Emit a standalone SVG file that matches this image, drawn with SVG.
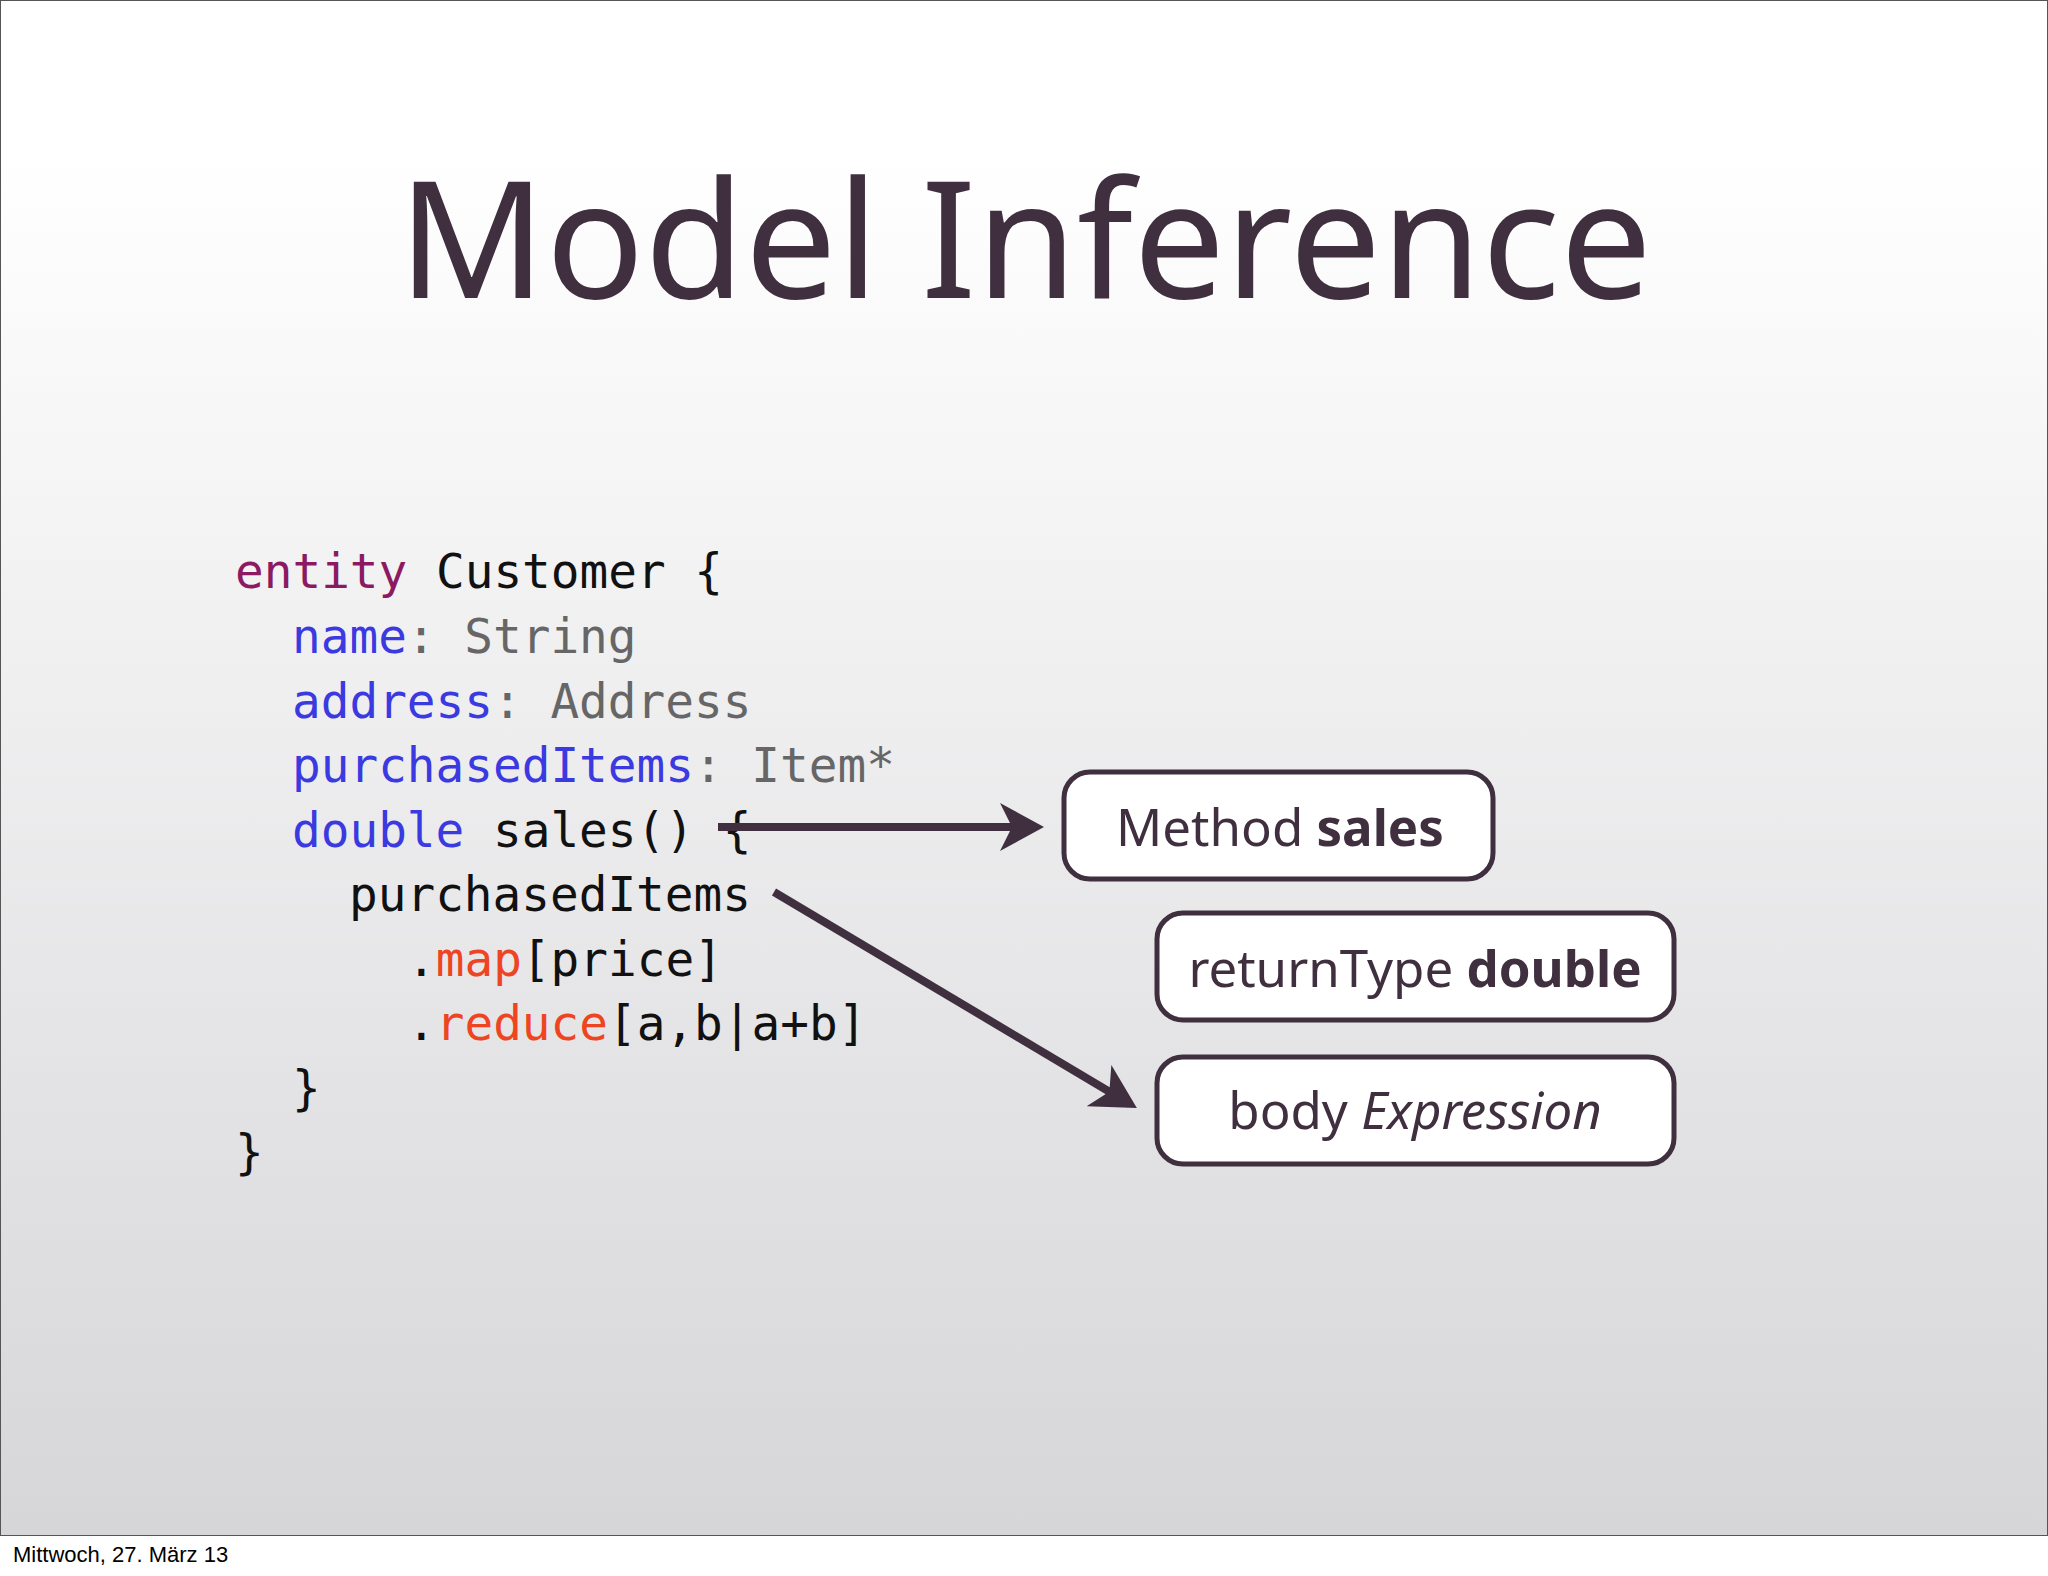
<svg xmlns="http://www.w3.org/2000/svg" width="2048" height="1576" viewBox="0 0 2048 1576">
<defs>
<linearGradient id="bg" x1="0" y1="0" x2="0" y2="1"><stop offset="0.1" stop-color="#ffffff"/><stop offset="1" stop-color="#d6d5d8"/></linearGradient>
<marker id="ah" markerWidth="6" markerHeight="6" refX="4.5" refY="3" orient="auto" markerUnits="strokeWidth"><path d="M0,0 L5.5,3 L0,6 L1.5,3 Z" fill="#3f2f3f"/></marker>
<style>
.c{font-family:"DejaVu Sans Mono",monospace;font-size:47.7px;fill:#111}
.k{fill:#8b1a62}.b{fill:#3a3ae0}.g{fill:#666}.o{fill:#ee4422}
.box rect{fill:#fff;stroke:#3f2f3f;stroke-width:5}
.box text{font-family:"Noto Sans",sans-serif;font-size:51px;fill:#3f2f3f;text-anchor:middle}
</style>
</defs>
<rect x="0" y="0" width="2048" height="1576" fill="#fff"/>
<rect x="0.5" y="0.5" width="2047" height="1535" fill="url(#bg)" stroke="#555" stroke-width="1"/>
<text x="13" y="1562" font-family="Liberation Sans,sans-serif" font-size="22" fill="#000">Mittwoch, 27. März 13</text>
<text x="1025" y="298" text-anchor="middle" font-family="Noto Sans,sans-serif" font-size="163" fill="#3f2f3f">Model Inference</text>
<g id="code" class="c">
<text x="235" y="588"><tspan class="k">entity</tspan> Customer {</text>
<text x="292" y="653"><tspan class="b">name</tspan><tspan class="g">: String</tspan></text>
<text x="292" y="718"><tspan class="b">address</tspan><tspan class="g">: Address</tspan></text>
<text x="292" y="782"><tspan class="b">purchasedItems</tspan><tspan class="g">: Item*</tspan></text>
<text x="292" y="847"><tspan class="b">double</tspan> sales() {</text>
<text x="349" y="911">purchasedItems</text>
<text x="407" y="976">.<tspan class="o">map</tspan>[price]</text>
<text x="407" y="1040">.<tspan class="o">reduce</tspan>[a,b|a+b]</text>
<text x="292" y="1105">}</text>
<text x="235" y="1169">}</text>
</g>
<g id="connectors" stroke="#3f2f3f" stroke-width="8" fill="none">
<line x1="718" y1="827" x2="1036" y2="827" marker-end="url(#ah)"/>
<line x1="774" y1="892" x2="1130" y2="1104" marker-end="url(#ah)"/>
</g>
<g id="n1" class="box"><rect x="1064" y="772" width="429" height="107" rx="26"/><text x="1280" y="846">Method <tspan font-weight="bold">sales</tspan></text></g>
<g id="n2" class="box"><rect x="1157" y="913" width="517" height="107" rx="26"/><text x="1415" y="987">returnType <tspan font-weight="bold">double</tspan></text></g>
<g id="n3" class="box"><rect x="1157" y="1057" width="517" height="107" rx="26"/><text x="1415" y="1129">body <tspan font-style="italic">Expression</tspan></text></g>
</svg>
